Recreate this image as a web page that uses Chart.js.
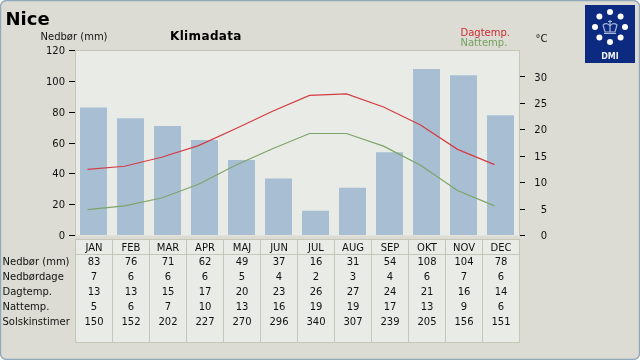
<!DOCTYPE html>
<html><head><meta charset="utf-8">
<style>html,body{margin:0;padding:0;background:#fff}#w{position:absolute;left:0;top:0;width:640px;height:360px}</style>
<script src="https://cdn.jsdelivr.net/npm/chart.js@4"></script>
</head><body><div id="w"><canvas id="c" width="640" height="360"></canvas></div>
<script>
const months=["JAN","FEB","MAR","APR","MAJ","JUN","JUL","AUG","SEP","OKT","NOV","DEC"];
const precip=[83,76,71,62,49,37,16,31,54,108,104,78];
const precipDays=[7,6,6,6,5,4,2,3,4,6,7,6];
const dayRounded=[13,13,15,17,20,23,26,27,24,21,16,14];
const nightRounded=[5,6,7,10,13,16,19,19,17,13,9,6];
const sunHours=[150,152,202,227,270,296,340,307,239,205,156,151];
const dayTemp=[12.5,13.1,14.8,17.0,20.2,23.5,26.5,26.8,24.3,20.9,16.3,13.4];
const nightTemp=[4.9,5.6,7.1,9.7,13.3,16.4,19.3,19.3,16.9,13.3,8.5,5.6];
const rowNames=["Nedbør (mm)","Nedbørdage","Dagtemp.","Nattemp.","Solskinstimer"];
const rows=[precip,precipDays,dayRounded,nightRounded,sunHours];
const FONT='"DejaVu Sans"';
const PANEL='#dcdcd4',PLOT='#e8ebe6',RULE='#c6c6b6';

function txt(ctx,s,x,y,font,color,align){ctx.font=font;ctx.fillStyle=color;ctx.textAlign=align||'left';ctx.textBaseline='alphabetic';ctx.fillText(s,x,y);}

const frame={id:'frame',
 beforeDraw(ch){const c=ch.ctx,a=ch.chartArea;c.save();
  c.beginPath();c.roundRect(0.5,0.5,639,359,6);c.fillStyle=PANEL;c.fill();c.strokeStyle='#92a8bc';c.lineWidth=1.4;c.stroke();
  c.fillStyle=PLOT;c.fillRect(a.left,a.top,a.right-a.left,a.bottom-a.top);
  c.restore();},
 afterDraw(ch){const c=ch.ctx,a=ch.chartArea,xs=ch.scales.x;c.save();
  c.strokeStyle=RULE;c.lineWidth=1;
  c.beginPath();c.moveTo(a.left,50.5);c.lineTo(a.right+1,50.5);c.moveTo(a.right+.5,50.5);c.lineTo(a.right+.5,a.bottom);c.stroke();
  // table
  const top=239,head=254,bot=342,L=a.left,R=a.right;
  c.fillStyle=PLOT;c.fillRect(L,top,R-L,bot-top);
  c.strokeStyle=RULE;c.beginPath();
  [top,head,bot].forEach(y=>{c.moveTo(L,y+.5);c.lineTo(R+1,y+.5);});
  const step=(R-L)/12;
  for(let i=0;i<=12;i++){const x=Math.round(L+i*step)+.5;c.moveTo(x,top);c.lineTo(x,bot);}
  c.stroke();
  months.forEach((m,i)=>txt(c,m,xs.getPixelForValue(i)+.5,250.5,'10px '+FONT,'#111','center'));
  rowNames.forEach((n,r)=>{
   const y=265+15*r;
   txt(c,n,2.5,y,'10px '+FONT,'#111');
   rows[r].forEach((v,i)=>txt(c,String(v),xs.getPixelForValue(i)+.5,y,'10px '+FONT,'#111','center'));
  });
  // titles
  txt(c,'Nice',5.5,25,'bold 18px '+FONT,'#000');
  txt(c,'Nedbør (mm)',40.5,40,'10px '+FONT,'#111');
  c.letterSpacing='0.35px';
  txt(c,'Klimadata',170,40,'bold 12px '+FONT,'#000');
  c.letterSpacing='0px';
  txt(c,'Dagtemp.',460.5,36,'10px '+FONT,'#cc2b30');
  txt(c,'Nattemp.',460.5,46,'10px '+FONT,'#74a05e');
  txt(c,'°C',535.5,42,'10px '+FONT,'#111');
  // logo
  c.fillStyle='#0b2a80';c.fillRect(585,5,50,58);
  c.fillStyle='#fff';
  const cx=610,cy=27,rr=15;
  for(let i=0;i<8;i++){const t=i*Math.PI/4;c.beginPath();c.arc(cx+rr*Math.sin(t),cy-rr*Math.cos(t),3,0,7);c.fill();}
  c.strokeStyle='#aab8dc';c.lineWidth=1.2;c.beginPath();
  c.moveTo(604,33.5);c.lineTo(616,33.5);c.moveTo(603,25);c.lineTo(605,32);c.lineTo(615,32);c.lineTo(617,25);
  c.quadraticCurveTo(613,22,610,26);c.quadraticCurveTo(607,22,603,25);
  c.moveTo(610,20);c.lineTo(610,32);c.moveTo(608,21.5);c.lineTo(612,21.5);c.stroke();
  txt(c,'DMI',610,58.5,'bold 8px '+FONT,'#eef0fa','center');
  c.restore();}
};

new Chart(document.getElementById('c'),{
 data:{labels:months,datasets:[
  {type:'line',label:'Dagtemp.',data:dayTemp.map((v,i)=>({x:i,y:v})),xAxisID:'xLine',yAxisID:'yT',borderColor:'#d43c42',borderWidth:1.2,pointRadius:0,tension:0,order:1},
  {type:'line',label:'Nattemp.',data:nightTemp.map((v,i)=>({x:i,y:v})),xAxisID:'xLine',yAxisID:'yT',borderColor:'#7ea468',borderWidth:1.2,pointRadius:0,tension:0,order:2},
  {type:'bar',label:'Nedbør (mm)',data:precip,xAxisID:'x',yAxisID:'yP',backgroundColor:'#a8bfd3',grouped:false,categoryPercentage:1,barPercentage:27/37,order:3}
 ]},
 options:{responsive:false,animation:false,
  layout:{padding:{left:0,top:50.5,right:93,bottom:124.5}},
  plugins:{legend:{display:false},tooltip:{enabled:false}},
  scales:{
   x:{type:'category',display:false},
   xLine:{type:'linear',display:false,min:-0.338,max:11.662},
   yP:{position:'left',min:0,max:120,afterFit(s){s.width=75;},
    ticks:{stepSize:20,color:'#111',font:{family:FONT,size:10},padding:4,labelOffset:1},
    border:{color:RULE},grid:{drawOnChartArea:false,tickLength:6,tickWidth:1,tickColor:'#000'}},
   yT:{position:'right',min:0,max:35,afterFit(s){s.width=28;},
    ticks:{stepSize:5,color:'#111',font:{family:FONT,size:10},crossAlign:'far',padding:4,labelOffset:1,
     callback:v=>v===35?'':String(v)},
    border:{color:RULE},grid:{drawOnChartArea:false,tickLength:6,tickWidth:1,tickColor:c=>c.tick&&c.tick.value===35?'rgba(0,0,0,0)':'#000'}}
  }},
 plugins:[frame]
});
</script></body></html>
